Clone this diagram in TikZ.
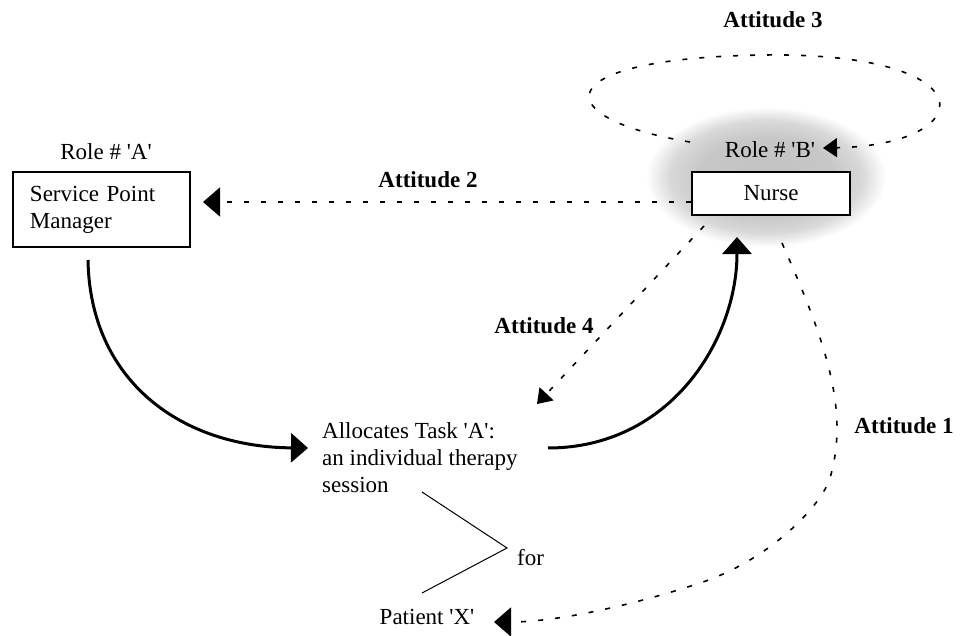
\documentclass[tikz,border=0pt]{standalone}
\usepackage{fontspec}
\setmainfont{Liberation Serif}
\usetikzlibrary{arrows.meta}
\newcommand\myfs{\fontsize{23bp}{27bp}\selectfont}
\newcommand\q{\textquotesingle}
\pgfdeclareradialshading{blobshade}{\pgfpointorigin}{color(0bp)=(black!24); color(14bp)=(black!22); color(20bp)=(black!15); color(25bp)=(white); color(50bp)=(white)}
\tikzset{
  txt/.style={font=\myfs, inner sep=0pt, anchor=base},
  boldtxt/.style={font=\myfs\bfseries, inner sep=0pt, anchor=base},
  box/.style={draw, line width=2.5bp, fill=white, font=\myfs},
  bigtip/.style={-{Triangle[length=17bp,width=29bp]}},
  smalltip/.style={-{Triangle[length=14bp,width=19bp]}},
  solidarrow/.style={line width=3bp, bigtip},
  dashline/.style={line width=1.6bp, dash pattern=on 5bp off 12bp},
  bracket/.style={line width=1bp}
}
\begin{document}
\begin{tikzpicture}[x=1bp,y=-1bp]
\useasboundingbox (0,0) rectangle (960,636);
% gray halo behind Role B
\shade[shading=blobshade] (766,177) ellipse [x radius=120, y radius=70];

% texts and boxes
\node[boldtxt] (att3) at (773,28) {Attitude 3};
\node[txt] (roleA) at (106,160) {Role \# \q A\q};
\node[txt] (roleB) at (770,158) {Role \# \q B\q};
\node[box, minimum width=177bp, minimum height=75bp, inner xsep=17bp, text width=143bp, align=left]
  (spm) at (101.5,209.5) {Service Point\\Manager};
\node[box, minimum width=158bp, minimum height=43bp] (nurse) at (771,193.5) {Nurse};
\node[boldtxt] (att2) at (428,188) {Attitude 2};
\node[boldtxt] (att4) at (544,333) {Attitude 4};
\node[boldtxt] (att1) at (904,433) {Attitude 1};
\node[font=\myfs, inner sep=0pt, anchor=north west, align=left] (task) at (322,422.3)
  {Allocates Task \q A\q:\\an individual therapy\\session};
\node[txt, anchor=base west] (for) at (517,565) {for};
\node[txt] (patient) at (427,624) {Patient \q X\q};

% coordinates of free ends
\coordinate (a3start) at (690,142);
\coordinate (a3top) at (764,55);
\coordinate (a3tip) at (823,148);
\coordinate (a2tip) at (203,202);
\coordinate (spmout) at (88,260);
\coordinate (taskin) at (308,448);
\coordinate (taskout) at (548,448);
\coordinate (nursein) at (737,237);
\coordinate (a4start) at (704,226);
\coordinate (a4tip) at (537,404);
\coordinate (a1start) at (782,243);
\coordinate (a1mid) at (830,478);
\coordinate (a1low) at (700,583);
\coordinate (a1tip) at (494,622);
\coordinate (brtop) at (422,492);
\coordinate (brmid) at (507,548);
\coordinate (brbot) at (422,593);

% Attitude 3 loop
\draw[dashline, smalltip] (a3start) .. controls (545,118) and (545,58) .. (a3top)
  .. controls (990,52) and (980,145) .. (a3tip);
% Attitude 2
\draw[dashline, bigtip] (nurse.west |- a2tip) -- (a2tip);
% allocation arrows
\draw[solidarrow] (spmout) .. controls (90,380) and (180,447) .. (taskin);
\draw[solidarrow] (taskout) .. controls (670,448) and (737,340) .. (nursein);
% Attitude 4
\draw[dashline, smalltip] (a4start) -- (a4tip);
% Attitude 1
\draw[dashline, bigtip] (a1start) .. controls (825,340) and (850,410) .. (a1mid)
  .. controls (822,505) and (770,560) .. (a1low)
  .. controls (640,603) and (560,622) .. (a1tip);
% for bracket
\draw[bracket] (brtop) -- (brmid) -- (brbot);
\end{tikzpicture}
\end{document}
